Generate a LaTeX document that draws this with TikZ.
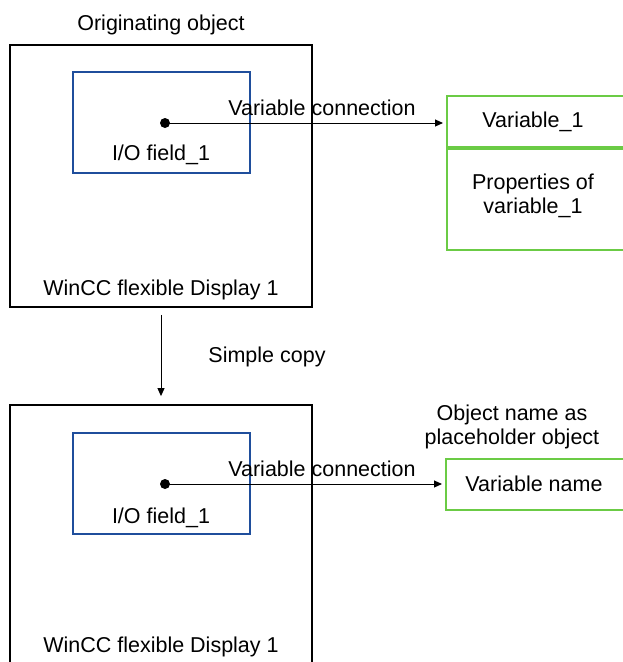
\documentclass[tikz,border=0pt]{standalone}
\usepackage{fontspec}
\setmainfont{Liberation Sans}
\usetikzlibrary{arrows.meta,positioning}
\definecolor{fieldblue}{HTML}{1F4E9C}
\definecolor{taggreen}{HTML}{6BCB45}

\tikzset{
  dispbox/.style={draw=black,line width=1.8pt,minimum width=302pt,inner sep=0pt},
  fieldbox/.style={draw=fieldblue,line width=1.6pt,minimum width=177pt,minimum height=101pt,inner sep=0pt},
  tagbox/.style={draw=taggreen,line width=2pt,minimum width=180pt,inner sep=0pt},
  conn/.style={-{Triangle[length=8pt,width=7pt]},line width=1pt},
  lbl/.style={font=\fontsize{21.5}{24}\selectfont,inner sep=0pt,align=center},
}

\begin{document}
\begin{tikzpicture}[x=1pt,y=-1pt]
  \useasboundingbox (0,0) rectangle (622,662);
  % originating object
  \node[lbl] (orig) at (161,25) {Originating object};
  \node[dispbox,minimum height=262pt] (disp1) at (161,176) {};
  \node[fieldbox] (field1) at (161.5,122.5) {};
  \node[lbl] (fieldtxt1) at (161,155) {I/O field\_1};
  \node[lbl] (name1) at (161,290) {WinCC flexible Display 1};
  \coordinate (dot1) at (165,123);
  \fill (dot1) circle (5pt);
  % variable
  \node[tagbox,minimum height=51pt] (var1) at (537,121.5) {};
  \node[tagbox,minimum height=101pt,below=0pt of var1] (prop1) {};
  \node[lbl] (vartxt1) at (533,122) {Variable\_1};
  \node[lbl] (proptxt1) at (533,196) {Properties of\\variable\_1};
  \draw[conn,shorten >=3pt] (dot1) -- (dot1 -| var1.west);
  \node[lbl] (conntxt1) at (322,108) {Variable connection};

  % copy
  \node[dispbox,minimum height=300pt] (disp2) at (161,555) {};
  \draw[conn,shorten <=7pt,shorten >=8pt] (disp1.south) -- (disp2.north);
  \node[lbl] (copytxt) at (267,357) {Simple copy};

  % copied object
  \node[fieldbox] (field2) at (161.5,483.5) {};
  \node[lbl] (fieldtxt2) at (161,518) {I/O field\_1};
  \node[lbl] (name2) at (161,647) {WinCC flexible Display 1};
  \coordinate (dot2) at (165,484);
  \fill (dot2) circle (5pt);
  \node[tagbox,minimum height=51pt] (varname) at (536,484.5) {};
  \node[lbl] (vartxt2) at (534,484) {Variable name};
  \node[lbl] (placetxt) at (512,427) {Object name as\\placeholder object};
  \draw[conn,shorten >=3pt] (dot2) -- (dot2 -| varname.west);
  \node[lbl] (conntxt2) at (322,469) {Variable connection};
\end{tikzpicture}
\end{document}
